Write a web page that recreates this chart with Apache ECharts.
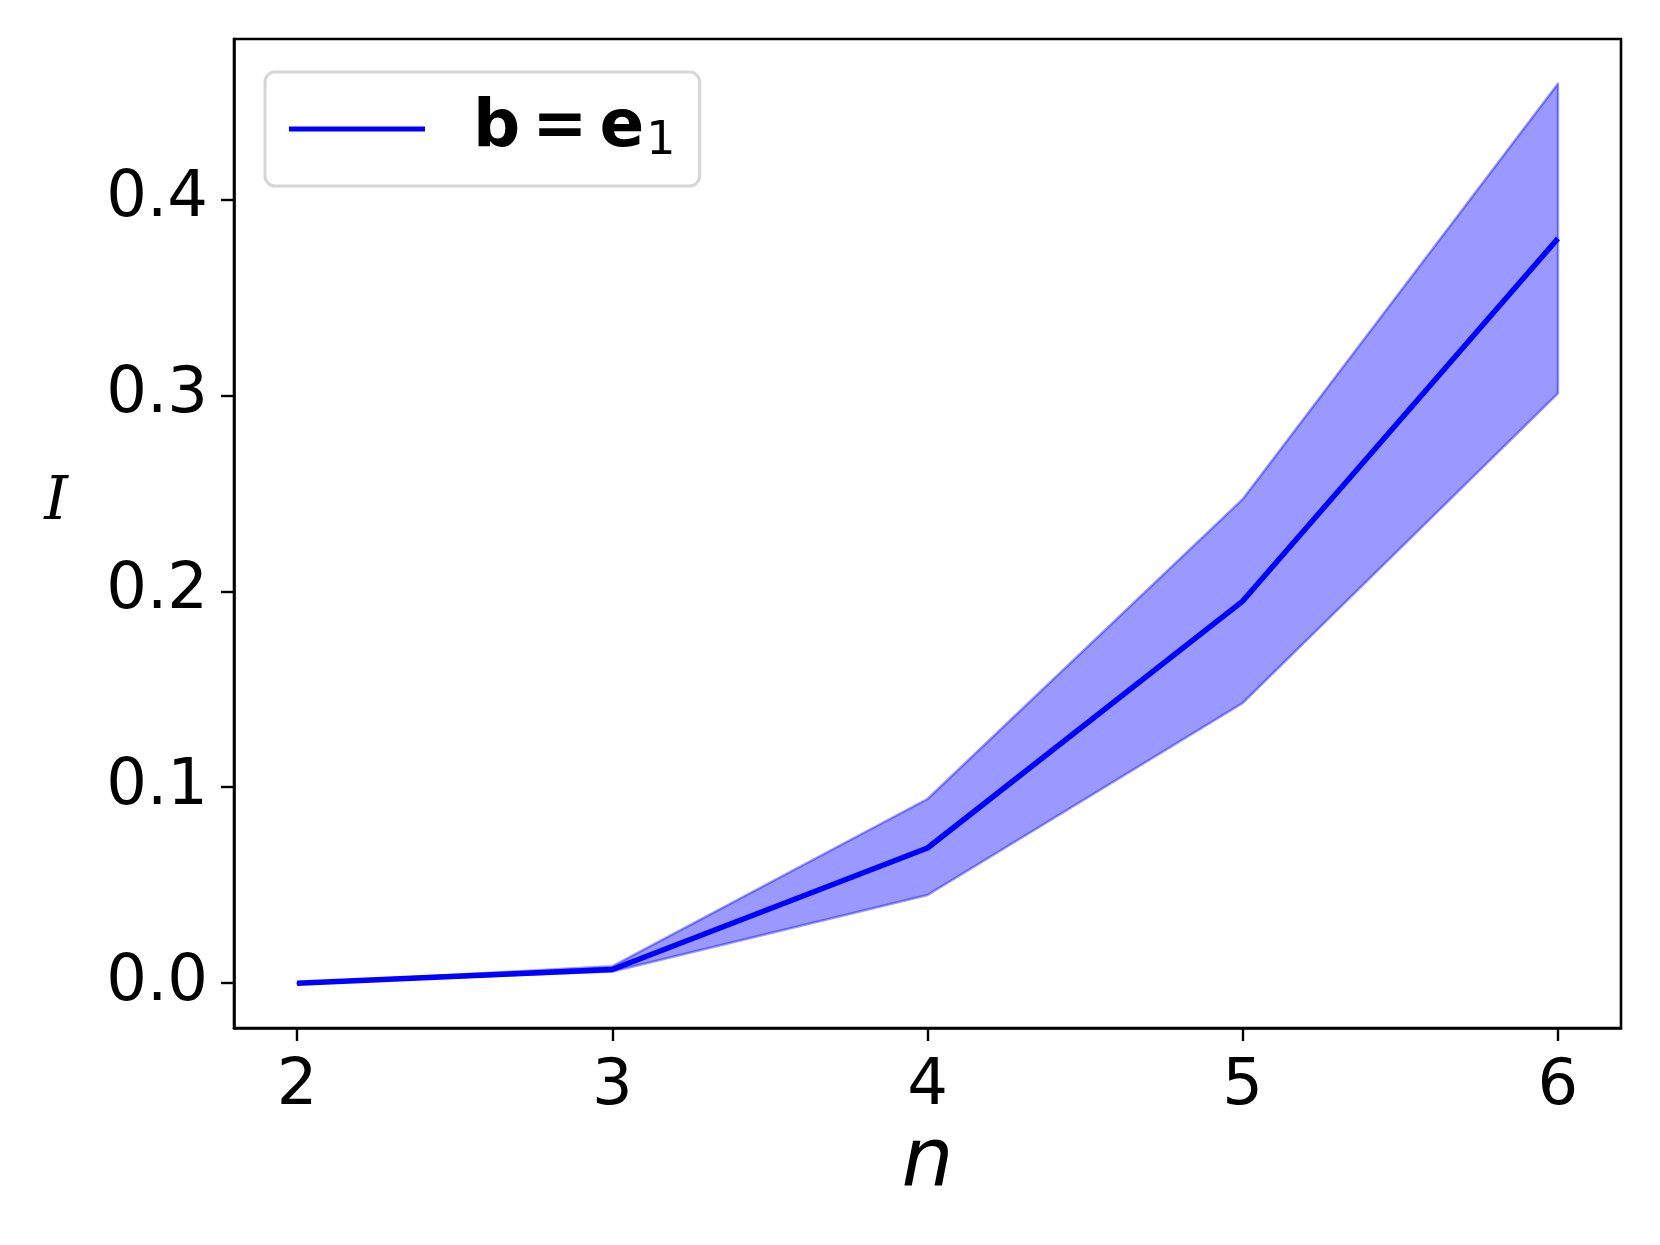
<!DOCTYPE html>
<html>
<head>
<meta charset="utf-8">
<script src="https://cdn.jsdelivr.net/npm/echarts@6/dist/echarts.min.js"></script>
<style>
  html, body { margin: 0; padding: 0; background: #fff; }
  #chart { width: 1660px; height: 1245px; }
</style>
</head>
<body>
<div id="chart"></div>
<script>
// values
var nValues = [2, 3, 4, 5, 6];
var meanI = [0.0, 0.007, 0.069, 0.195, 0.380];
var lowerI = [0.0, 0.006, 0.045, 0.143, 0.301];
var upperI = [0.0, 0.0086, 0.094, 0.247, 0.459];
var xTicks = [2, 3, 4, 5, 6];
var yTicks = [0.0, 0.1, 0.2, 0.3, 0.4];

var font = "DejaVu Sans";
var bandColor = "rgba(0, 0, 255, 0.4)";

var chart = echarts.init(document.getElementById("chart"));

var pairs = function (ys) {
  return nValues.map(function (n, i) { return [n, ys[i]]; });
};

// fill_between style band: upper edge forward, lower edge back
function renderBand(params, api) {
  var pts = [];
  var i;
  for (i = 0; i < nValues.length; i++) pts.push(api.coord([nValues[i], upperI[i]]));
  for (i = nValues.length - 1; i >= 0; i--) pts.push(api.coord([nValues[i], lowerI[i]]));
  return {
    type: "polygon",
    shape: { points: pts },
    style: { fill: bandColor, stroke: bandColor, lineWidth: 2.5, lineJoin: "round" },
  };
}

var option = {
  animation: false,
  backgroundColor: "#fff",
  grid: {
    left: 234,
    top: 39,
    width: 1387,
    height: 989,
    show: true,
    borderColor: "#000",
    borderWidth: 2.6,
    backgroundColor: "#fff",
    outerBoundsMode: "none",
  },
  legend: {
    left: 265,
    top: 72,
    orient: "horizontal",
    data: ["mean"],
    icon: "rect",
    itemWidth: 136,
    itemHeight: 5,
    padding: [21, 24, 21, 24],
    backgroundColor: "#fff",
    borderColor: "#d6d6d6",
    borderWidth: 3,
    borderRadius: 10,
    formatter: function () {
      return "{sp|}{b|b}{eq|=}{b|e}{sub|1}";
    },
    textStyle: {
      rich: {
        sp: { width: 43, height: 70 },
        b: { fontFamily: font, fontWeight: "bold", fontSize: 66, color: "#000", lineHeight: 70 },
        eq: { fontFamily: font, fontWeight: "bold", fontSize: 66, color: "#000", lineHeight: 70, padding: [0, 12, 0, 12] },
        sub: { fontFamily: font, fontSize: 46, color: "#000", lineHeight: 70, padding: [26, 0, 0, 2] },
      },
    },
  },
  xAxis: {
    type: "value",
    min: 1.8,
    max: 6.2,
    z: 10,
    name: "n",
    nameLocation: "middle",
    nameGap: 94,
    nameTextStyle: { fontFamily: font, fontStyle: "italic", fontSize: 82, color: "#000" },
    splitLine: { show: false },
    axisLine: { show: true, onZero: false, lineStyle: { color: "#000", width: 2.6 } },
    axisTick: { show: true, inside: false, length: 13, lineStyle: { color: "#000", width: 2.4 }, customValues: xTicks },
    axisLabel: {
      customValues: xTicks,
      margin: 27,
      fontFamily: font,
      fontSize: 64,
      color: "#000",
      formatter: function (v) { return String(v); },
    },
  },
  yAxis: {
    type: "value",
    min: -0.02285,
    max: 0.4818,
    z: 10,
    name: "I",
    nameLocation: "middle",
    nameRotate: 0,
    nameGap: 166,
    nameTextStyle: { fontFamily: "DejaVu Serif", fontStyle: "italic", fontSize: 60, color: "#000", verticalAlign: "bottom" },
    splitLine: { show: false },
    axisLine: { show: true, onZero: false, lineStyle: { color: "#000", width: 2.6 } },
    axisTick: { show: true, inside: false, length: 13, lineStyle: { color: "#000", width: 2.4 }, customValues: yTicks },
    axisLabel: {
      customValues: yTicks,
      margin: 26,
      fontFamily: font,
      fontSize: 64,
      color: "#000",
      formatter: function (v) { return v.toFixed(1); },
    },
  },
  series: [
    {
      name: "band",
      type: "custom",
      data: [[nValues[0], upperI[0]]],
      renderItem: renderBand,
      z: 2,
    },
    {
      name: "mean",
      type: "line",
      symbol: "none",
      color: "#0000ff",
      data: pairs(meanI),
      lineStyle: { color: "#0000ff", width: 5.5 },
      z: 5,
    },
  ],
};

chart.setOption(option);
</script>
</body>
</html>
